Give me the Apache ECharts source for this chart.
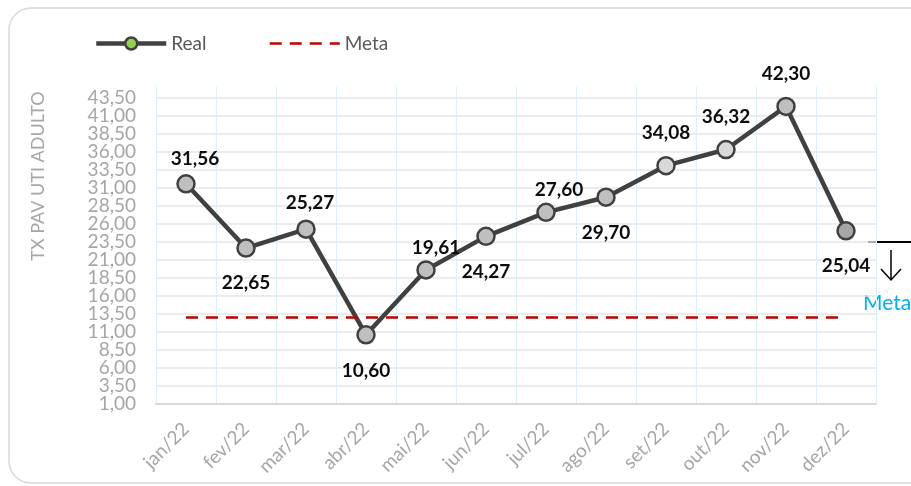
<!DOCTYPE html>
<html>
<head>
<meta charset="utf-8">
<script src="https://cdn.jsdelivr.net/npm/echarts@6/dist/echarts.min.js"></script>
<style>
  html, body { margin: 0; padding: 0; background: #fff; }
  #chart { width: 911px; height: 486px; }
</style>
</head>
<body>
<div id="chart"></div>
<script>
const months = ["jan/22", "fev/22", "mar/22", "abr/22", "mai/22", "jun/22",
  "jul/22", "ago/22", "set/22", "out/22", "nov/22", "dez/22"];
const realValues = [31.56, 22.65, 25.27, 10.60, 19.61, 24.27, 27.60, 29.70, 34.08, 36.32, 42.30, 25.04];
const metaValues = [13, 13, 13, 13, 13, 13, 13, 13, 13, 13, 13, 13];
const yMin = 1;
const yMax = 45;
const yStep = 2.5;

// label placement (dx, dy from the marker centre) and marker fills, as in the source sheet
const labelOffsets = [[9, -25], [0, 35], [4, -26], [0, 36], [10, -22], [0, 36],
  [13, -22], [0, 36], [0, -33], [0, -33], [0, -33], [0, 35]];
const markerFills = ["#bfbfbf", "#bfbfbf", "#bfbfbf", "#bfbfbf", "#bfbfbf", "#bfbfbf",
  "#bfbfbf", "#bfbfbf", "#d9d9d9", "#d9d9d9", "#bfbfbf", "#a6a6a6"];

const font = "Lato";

function formatComma(value) {
  return Number(value).toFixed(2).replace(".", ",");
}

const yLabelStyle = {
  margin: 20,
  fontFamily: font,
  fontSize: 19,
  color: "#a6a6a6"
};

const chart = echarts.init(document.getElementById("chart"));

chart.setOption({
  animation: false,
  textStyle: { fontFamily: font },
  grid: { left: 156, right: 35, top: 87, bottom: 82 },
  legend: {
    left: 89,
    top: 29,
    itemWidth: 70,
    itemHeight: 15,
    itemGap: 62,
    textStyle: { fontFamily: font, fontSize: 19, color: "#595959" },
    data: [
      {
        name: "Real",
        itemStyle: { color: "#92d050", borderColor: "#404040", borderWidth: 2.5 },
        lineStyle: { width: 4.5, color: "#404040" }
      },
      {
        name: "Meta",
        itemStyle: { opacity: 0 },
        lineStyle: { width: 2.5, color: "#c00000", type: [12, 8] }
      }
    ]
  },
  xAxis: {
    type: "category",
    data: months,
    boundaryGap: true,
    axisLine: { lineStyle: { color: "#d9d9d9", width: 2 } },
    axisTick: { show: false },
    axisLabel: {
      rotate: 45,
      margin: 22,
      fontFamily: font,
      fontSize: 19,
      color: "#a6a6a6"
    },
    splitLine: { show: true, lineStyle: { color: "#dcf0fa", width: 1 } }
  },
  yAxis: [
    {
      type: "value",
      min: yMin,
      max: yMax,
      interval: yStep,
      axisLine: { show: false },
      axisTick: { show: false },
      axisLabel: {
        ...yLabelStyle,
        showMinLabel: false,
        showMaxLabel: false,
        formatter: (value) => formatComma(value)
      },
      splitLine: { showMaxLine: false, lineStyle: { color: "#e6e6e6", width: 1.5 } }
    },
    {
      // second copy of the scale only to print the bottom "1,00" tick label
      type: "value",
      position: "left",
      min: yMin,
      max: yMax,
      interval: yStep,
      axisLine: { show: false },
      axisTick: { show: false },
      splitLine: { show: false },
      axisLabel: {
        ...yLabelStyle,
        showMinLabel: true,
        showMaxLabel: false,
        formatter: (value) => (value === yMin ? formatComma(value) : "")
      }
    }
  ],
  series: [
    {
      name: "Real",
      type: "line",
      symbol: "circle",
      symbolSize: 17,
      lineStyle: { color: "#404040", width: 4.5 },
      itemStyle: { color: "#bfbfbf", borderColor: "#404040", borderWidth: 2.5 },
      label: {
        show: true,
        position: "inside",
        fontFamily: font,
        fontSize: 19,
        fontWeight: "bold",
        color: "#0d0d0d",
        formatter: (p) => formatComma(p.value)
      },
      data: realValues.map((value, i) => ({
        value,
        itemStyle: { color: markerFills[i] },
        label: { offset: labelOffsets[i] }
      })),
      z: 3
    },
    {
      name: "Meta",
      type: "line",
      symbol: "none",
      lineStyle: { color: "#c00000", width: 2.5, type: [12, 8] },
      itemStyle: { color: "#c00000" },
      data: metaValues,
      z: 4
    }
  ],
  graphic: [
    {
      type: "rect",
      shape: { x: 9, y: 8, width: 960, height: 475, r: 22 },
      style: { fill: "none", stroke: "#d9d9d9", lineWidth: 1.5 },
      z: -10
    },
    {
      type: "text",
      x: 38,
      y: 176,
      rotation: Math.PI / 2,
      style: {
        text: "TX PAV UTI ADULTO",
        fontFamily: font,
        fontSize: 18,
        fill: "#a6a6a6",
        align: "center",
        verticalAlign: "middle"
      }
    },
    {
      type: "line",
      shape: { x1: 868, y1: 242, x2: 915, y2: 242 },
      style: { stroke: "#000", lineWidth: 2 }
    },
    {
      type: "polyline",
      shape: { points: [[891, 250], [891, 280]] },
      style: { stroke: "#000", lineWidth: 1.5, fill: "none" }
    },
    {
      type: "polyline",
      shape: { points: [[881, 269], [891, 280], [901, 269]] },
      style: { stroke: "#000", lineWidth: 1.5, fill: "none" }
    },
    {
      type: "text",
      x: 863,
      y: 303,
      style: {
        text: "Meta",
        fontFamily: font,
        fontSize: 21,
        fill: "#00b0f0",
        align: "left",
        verticalAlign: "middle"
      }
    }
  ]
});
</script>
</body>
</html>
